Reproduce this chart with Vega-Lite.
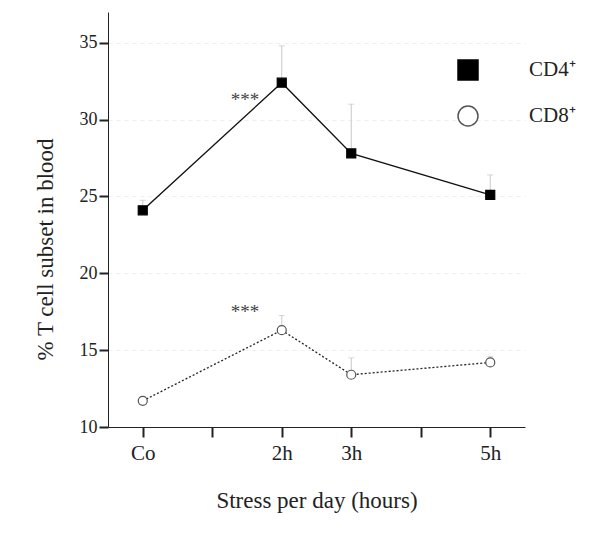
{
  "$schema": "https://vega.github.io/schema/vega-lite/v6.json",
  "width": 417,
  "height": 415,
  "autosize": {"type": "none"},
  "padding": {"left": 108, "top": 12, "right": 75, "bottom": 111},
  "background": "white",
  "config": {
    "view": {"stroke": null},
    "font": "Liberation Serif",
    "axis": {"labelFont": "Liberation Serif", "titleFont": "Liberation Serif", "titleFontWeight": "normal", "labelColor": "#222", "titleColor": "#222", "domainColor": "#222", "tickColor": "#222", "domainWidth": 1, "tickWidth": 2},
    "axisX": {"labelFontSize": 21, "labelPadding": 5, "tickSize": 10, "titleFontSize": 23, "titlePadding": 26, "grid": false, "labelAngle": 0},
    "axisY": {"labelFontSize": 18, "labelPadding": 2, "tickSize": 9, "titleFontSize": 23, "titlePadding": 22, "grid": true, "gridColor": "#efefef", "gridDash": [4, 4]},
    "legend": {"labelFont": "Liberation Serif", "labelFontSize": 21}
  },
  "datasets": {
    "main": [
      {"series": "CD4⁺", "x": 0, "mean": 24.1, "upper": 24.75},
      {"series": "CD4⁺", "x": 2, "mean": 32.4, "upper": 34.8},
      {"series": "CD4⁺", "x": 3, "mean": 27.8, "upper": 31.0},
      {"series": "CD4⁺", "x": 5, "mean": 25.1, "upper": 26.4},
      {"series": "CD8⁺", "x": 0, "mean": 11.7, "upper": 11.95},
      {"series": "CD8⁺", "x": 2, "mean": 16.3, "upper": 17.25},
      {"series": "CD8⁺", "x": 3, "mean": 13.4, "upper": 14.5},
      {"series": "CD8⁺", "x": 5, "mean": 14.2, "upper": 14.6}
    ],
    "stars": [
      {"x": 1.47, "y": 31.3, "text": "***"},
      {"x": 1.47, "y": 17.5, "text": "***"}
    ]
  },
  "layer": [
    {
      "data": {"name": "main"},
      "mark": {"type": "rule", "color": "#c8c8c8", "strokeWidth": 1},
      "encoding": {
        "x": {"field": "x", "type": "quantitative", "scale": {"domain": [-0.5, 5.5], "nice": false, "zero": false},
          "axis": {"values": [0, 1, 2, 3, 4, 5], "labelExpr": "datum.value == 0 ? 'Co' : datum.value == 2 ? '2h' : datum.value == 3 ? '3h' : datum.value == 5 ? '5h' : ''",
            "title": "Stress per day (hours)"}},
        "y": {"field": "mean", "type": "quantitative", "scale": {"domain": [10, 37], "nice": false, "zero": false},
          "axis": {"values": [10, 15, 20, 25, 30, 35], "title": "% T cell subset in blood", "titleY": 237}},
        "y2": {"field": "upper"}
      }
    },
    {
      "data": {"name": "main"},
      "mark": {"type": "tick", "orient": "horizontal", "color": "#c8c8c8", "size": 6, "thickness": 1},
      "encoding": {
        "x": {"field": "x", "type": "quantitative"},
        "y": {"field": "upper", "type": "quantitative"}
      }
    },
    {
      "data": {"name": "main"},
      "transform": [{"filter": "datum.series === 'CD4⁺'"}],
      "mark": {"type": "line", "color": "#111", "strokeWidth": 1.4},
      "encoding": {
        "x": {"field": "x", "type": "quantitative"},
        "y": {"field": "mean", "type": "quantitative"}
      }
    },
    {
      "data": {"name": "main"},
      "transform": [{"filter": "datum.series === 'CD8⁺'"}],
      "mark": {"type": "line", "color": "#222", "strokeWidth": 1.3, "strokeDash": [2, 2]},
      "encoding": {
        "x": {"field": "x", "type": "quantitative"},
        "y": {"field": "mean", "type": "quantitative"}
      }
    },
    {
      "data": {"name": "main"},
      "mark": {"type": "point", "filled": false, "size": 81, "strokeWidth": 1.2, "opacity": 1},
      "encoding": {
        "x": {"field": "x", "type": "quantitative"},
        "y": {"field": "mean", "type": "quantitative"},
        "fill": {"field": "series", "type": "nominal", "scale": {"domain": ["CD4⁺", "CD8⁺"], "range": ["#000", "#fff"]},
          "legend": {"orient": "none", "legendX": 349, "legendY": 47, "title": null, "padding": 0, "symbolSize": 400, "labelFontSize": 21, "labelOffset": 50, "rowPadding": 20, "labelColor": "#222",
            "encode": {"symbols": {
              "shape": {"value": {"expr": "datum.value === 'CD4⁺' ? 'M-3.8,0H3.8M-0.45,-0.45H0.45V0.45H-0.45Z' : 'M-3.8,0H-3.6M-3.4,0H-3.2M-3.0,0H-2.8M-2.6,0H-2.4M-2.2,0H-2.0M-1.8,0H-1.6M-1.4,0H-1.2M-1.0,0H-0.8M3.8,0H3.6M3.4,0H3.2M3.0,0H2.8M2.6,0H2.4M2.2,0H2.0M1.8,0H1.6M1.4,0H1.2M1.0,0H0.8M0.45,0A0.45,0.45 0 1,0 -0.45,0A0.45,0.45 0 1,0 0.45,0Z'"}},
              "fill": {"value": {"expr": "datum.value === 'CD4⁺' ? '#000' : '#fff'"}},
              "stroke": {"value": {"expr": "datum.value === 'CD4⁺' ? '#111' : '#444'"}},
              "strokeWidth": {"value": 1.3},
              "opacity": {"value": 1}
            }}}},
        "shape": {"field": "series", "type": "nominal", "scale": {"domain": ["CD4⁺", "CD8⁺"], "range": ["square", "circle"]},
          "legend": {"orient": "none", "legendX": 349, "legendY": 47, "title": null, "padding": 0, "symbolSize": 400, "labelFontSize": 21, "labelOffset": 50, "rowPadding": 20, "labelColor": "#222",
            "encode": {"symbols": {
              "shape": {"value": {"expr": "datum.value === 'CD4⁺' ? 'M-3.8,0H3.8M-0.45,-0.45H0.45V0.45H-0.45Z' : 'M-3.8,0H-3.6M-3.4,0H-3.2M-3.0,0H-2.8M-2.6,0H-2.4M-2.2,0H-2.0M-1.8,0H-1.6M-1.4,0H-1.2M-1.0,0H-0.8M3.8,0H3.6M3.4,0H3.2M3.0,0H2.8M2.6,0H2.4M2.2,0H2.0M1.8,0H1.6M1.4,0H1.2M1.0,0H0.8M0.45,0A0.45,0.45 0 1,0 -0.45,0A0.45,0.45 0 1,0 0.45,0Z'"}},
              "fill": {"value": {"expr": "datum.value === 'CD4⁺' ? '#000' : '#fff'"}},
              "stroke": {"value": {"expr": "datum.value === 'CD4⁺' ? '#111' : '#444'"}},
              "strokeWidth": {"value": 1.3},
              "opacity": {"value": 1}
            }}}},
        "stroke": {"field": "series", "type": "nominal", "scale": {"domain": ["CD4⁺", "CD8⁺"], "range": ["#000", "#555"]},
          "legend": {"orient": "none", "legendX": 349, "legendY": 47, "title": null, "padding": 0, "symbolSize": 400, "labelFontSize": 21, "labelOffset": 50, "rowPadding": 20, "labelColor": "#222",
            "encode": {"symbols": {
              "shape": {"value": {"expr": "datum.value === 'CD4⁺' ? 'M-3.8,0H3.8M-0.45,-0.45H0.45V0.45H-0.45Z' : 'M-3.8,0H-3.6M-3.4,0H-3.2M-3.0,0H-2.8M-2.6,0H-2.4M-2.2,0H-2.0M-1.8,0H-1.6M-1.4,0H-1.2M-1.0,0H-0.8M3.8,0H3.6M3.4,0H3.2M3.0,0H2.8M2.6,0H2.4M2.2,0H2.0M1.8,0H1.6M1.4,0H1.2M1.0,0H0.8M0.45,0A0.45,0.45 0 1,0 -0.45,0A0.45,0.45 0 1,0 0.45,0Z'"}},
              "fill": {"value": {"expr": "datum.value === 'CD4⁺' ? '#000' : '#fff'"}},
              "stroke": {"value": {"expr": "datum.value === 'CD4⁺' ? '#111' : '#444'"}},
              "strokeWidth": {"value": 1.3},
              "opacity": {"value": 1}
            }}}}
      }
    },
    {
      "data": {"name": "stars"},
      "mark": {"type": "text", "fontSize": 19, "color": "#444", "font": "Liberation Serif"},
      "encoding": {
        "x": {"field": "x", "type": "quantitative"},
        "y": {"field": "y", "type": "quantitative"},
        "text": {"field": "text"}
      }
    }
  ]
}
